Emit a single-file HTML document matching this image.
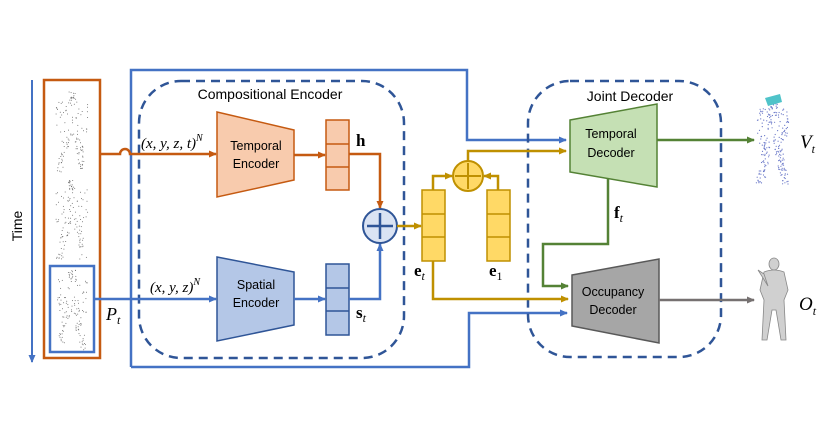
<!DOCTYPE html>
<html><head><meta charset="utf-8"><style>
html,body{margin:0;padding:0;background:#fff;}
svg text{font-family:"Liberation Sans",sans-serif;}
.m{font-family:"Liberation Serif",serif;font-style:italic;}
.b{font-family:"Liberation Serif",serif;font-weight:bold;}
</style></head><body>
<svg id="s" width="824" height="437" viewBox="0 0 824 437" xmlns="http://www.w3.org/2000/svg">
<defs>
<marker id="ab" markerWidth="8" markerHeight="8" refX="7" refY="4" orient="auto" markerUnits="userSpaceOnUse"><path d="M0,0.5 L8,4 L0,7.5z" fill="#4472c4"/></marker>
<marker id="ao" markerWidth="8" markerHeight="8" refX="7" refY="4" orient="auto" markerUnits="userSpaceOnUse"><path d="M0,0.5 L8,4 L0,7.5z" fill="#c55a11"/></marker>
<marker id="ay" markerWidth="8" markerHeight="8" refX="7" refY="4" orient="auto" markerUnits="userSpaceOnUse"><path d="M0,0.5 L8,4 L0,7.5z" fill="#bf9000"/></marker>
<marker id="ag" markerWidth="8" markerHeight="8" refX="7" refY="4" orient="auto" markerUnits="userSpaceOnUse"><path d="M0,0.5 L8,4 L0,7.5z" fill="#548235"/></marker>
<marker id="agr" markerWidth="8" markerHeight="8" refX="7" refY="4" orient="auto" markerUnits="userSpaceOnUse"><path d="M0,0.5 L8,4 L0,7.5z" fill="#767171"/></marker>
</defs>
<line x1="32" y1="80" x2="32" y2="362" stroke="#4472c4" stroke-width="2" marker-end="url(#ab)"/>
<text x="0" y="0" font-size="14" transform="translate(22,226) rotate(-90)" text-anchor="middle">Time</text>
<rect x="44" y="80" width="56" height="278" fill="none" stroke="#c55a11" stroke-width="2.5"/>
<rect x="50" y="266" width="44" height="86" fill="none" stroke="#4472c4" stroke-width="2.5"/>
<g id="pc"></g>
<path d="M131,367 V70 H467 V140 H566" fill="none" stroke="#4472c4" stroke-width="2.5" marker-end="url(#ab)"/>
<path d="M131,367 H469 V313 H567" fill="none" stroke="#4472c4" stroke-width="2.5" marker-end="url(#ab)"/>
<rect x="139" y="81" width="265" height="277" rx="42" fill="none" stroke="#2f5597" stroke-width="2.5" stroke-dasharray="9,6"/>
<rect x="528" y="81" width="193" height="276" rx="42" fill="none" stroke="#2f5597" stroke-width="2.5" stroke-dasharray="9,6"/>
<text x="270" y="99" font-size="14" text-anchor="middle">Compositional Encoder</text>
<text x="630" y="101" font-size="14" text-anchor="middle">Joint Decoder</text>
<path d="M100,154 H120 A5,5 0 0 1 130,154 H216" fill="none" stroke="#c55a11" stroke-width="2.5" marker-end="url(#ao)"/>
<text x="141" y="148" font-size="15" class="m">(x, y, z, t)<tspan dy="-7" font-size="10">N</tspan></text>
<polygon points="217,112 294,130 294,180 217,197" fill="#f8cbad" stroke="#c55a11" stroke-width="1.5"/>
<text x="256" y="150" font-size="12.5" text-anchor="middle">Temporal</text>
<text x="256" y="168" font-size="12.5" text-anchor="middle">Encoder</text>
<line x1="294" y1="155" x2="325" y2="155" stroke="#c55a11" stroke-width="2.5" marker-end="url(#ao)"/>
<rect x="326" y="120" width="23" height="70" fill="#f8cbad" stroke="#c55a11" stroke-width="1.5"/>
<line x1="326" y1="144" x2="349" y2="144" stroke="#c55a11" stroke-width="1.5"/><line x1="326" y1="167" x2="349" y2="167" stroke="#c55a11" stroke-width="1.5"/>
<text x="356" y="146" font-size="17" class="b">h</text>
<path d="M349,154 H380 V208" fill="none" stroke="#c55a11" stroke-width="2.5" marker-end="url(#ao)"/>
<line x1="94" y1="299" x2="216" y2="299" stroke="#4472c4" stroke-width="2.5" marker-end="url(#ab)"/>
<text x="150" y="292" font-size="15" class="m">(x, y, z)<tspan dy="-7" font-size="10">N</tspan></text>
<text x="106" y="320" font-size="18" class="m">P<tspan dy="4" font-size="12">t</tspan></text>
<polygon points="217,257 294,272 294,325 217,341" fill="#b4c7e7" stroke="#2f5597" stroke-width="1.5"/>
<text x="256" y="289" font-size="12.5" text-anchor="middle">Spatial</text>
<text x="256" y="307" font-size="12.5" text-anchor="middle">Encoder</text>
<line x1="294" y1="299" x2="325" y2="299" stroke="#4472c4" stroke-width="2.5" marker-end="url(#ab)"/>
<rect x="326" y="264" width="23" height="71" fill="#b4c7e7" stroke="#2f5597" stroke-width="1.5"/>
<line x1="326" y1="288" x2="349" y2="288" stroke="#2f5597" stroke-width="1.5"/><line x1="326" y1="311" x2="349" y2="311" stroke="#2f5597" stroke-width="1.5"/>
<text x="356" y="318" font-size="17" class="b">s<tspan dy="4" font-size="12" font-weight="normal" font-style="italic">t</tspan></text>
<path d="M349,299 H380 V244" fill="none" stroke="#4472c4" stroke-width="2.5" marker-end="url(#ab)"/>
<circle cx="380" cy="226" r="17" fill="#dae3f3" stroke="#2f5597" stroke-width="2"/>
<line x1="367" y1="226" x2="393" y2="226" stroke="#2f5597" stroke-width="2.5"/><line x1="380" y1="213" x2="380" y2="239" stroke="#2f5597" stroke-width="2.5"/>
<line x1="397" y1="226" x2="421" y2="226" stroke="#bf9000" stroke-width="2.5" marker-end="url(#ay)"/>
<rect x="422" y="190" width="23" height="71" fill="#ffd966" stroke="#bf9000" stroke-width="1.5"/>
<line x1="422" y1="214" x2="445" y2="214" stroke="#bf9000" stroke-width="1.5"/><line x1="422" y1="237" x2="445" y2="237" stroke="#bf9000" stroke-width="1.5"/>
<rect x="487" y="190" width="23" height="71" fill="#ffd966" stroke="#bf9000" stroke-width="1.5"/>
<line x1="487" y1="214" x2="510" y2="214" stroke="#bf9000" stroke-width="1.5"/><line x1="487" y1="237" x2="510" y2="237" stroke="#bf9000" stroke-width="1.5"/>
<text x="414" y="276" font-size="17" class="b">e<tspan dy="4" font-size="12" font-weight="normal" font-style="italic">t</tspan></text>
<text x="489" y="276" font-size="17" class="b">e<tspan dy="4" font-size="12" font-weight="normal">1</tspan></text>
<path d="M433,190 V176 H452" fill="none" stroke="#bf9000" stroke-width="2.5" marker-end="url(#ay)"/>
<path d="M498,190 V176 H484" fill="none" stroke="#bf9000" stroke-width="2.5" marker-end="url(#ay)"/>
<circle cx="468" cy="176" r="15" fill="#ffd966" stroke="#bf9000" stroke-width="2"/>
<line x1="455" y1="176" x2="481" y2="176" stroke="#bf9000" stroke-width="2"/><line x1="468" y1="163" x2="468" y2="189" stroke="#bf9000" stroke-width="2"/>
<path d="M468,161 V151 H566" fill="none" stroke="#bf9000" stroke-width="2.5" marker-end="url(#ay)"/>
<path d="M433,261 V299 H568" fill="none" stroke="#bf9000" stroke-width="2.5" marker-end="url(#ay)"/>
<polygon points="570,120 657,104 657,187 570,172" fill="#c5e0b4" stroke="#548235" stroke-width="1.5"/>
<text x="611" y="138" font-size="12.5" text-anchor="middle">Temporal</text>
<text x="611" y="157" font-size="12.5" text-anchor="middle">Decoder</text>
<line x1="657" y1="140" x2="754" y2="140" stroke="#548235" stroke-width="2.5" marker-end="url(#ag)"/>
<path d="M608,178 V244 H543 V286 H568" fill="none" stroke="#548235" stroke-width="2.5" marker-end="url(#ag)"/>
<text x="614" y="218" font-size="17" class="b">f<tspan dy="4" font-size="12" font-weight="normal" font-style="italic">t</tspan></text>
<polygon points="572,275 659,259 659,343 572,326" fill="#a6a6a6" stroke="#595959" stroke-width="1.5"/>
<text x="613" y="296" font-size="12.5" text-anchor="middle">Occupancy</text>
<text x="613" y="314" font-size="12.5" text-anchor="middle">Decoder</text>
<line x1="659" y1="300" x2="754" y2="300" stroke="#767171" stroke-width="2.5" marker-end="url(#agr)"/>
<text x="800" y="148" font-size="19" class="m">V<tspan dy="5" font-size="12">t</tspan></text>
<text x="799" y="310" font-size="19" class="m">O<tspan dy="5" font-size="12">t</tspan></text>
<g fill="#d0d0d0" stroke="#888" stroke-width="0.8">
<ellipse cx="774" cy="264" rx="5" ry="6"/>
<path d="M764,272 Q774,268 784,272 L788,290 L784,300 L786,340 L781,340 L776,310 L772,310 L767,340 L762,340 L764,300 L760,290 Z"/>
<path d="M764,274 L758,270 L768,286 Z"/>
</g>
<g id="vt"></g>
</svg>
<script>
var s=1;function r(){s=(s*16807)%2147483647;return (s-1)/2147483646;}
function fig(g,cx,top,h,col,n,sz,wf){var out='';for(var i=0;i<n;i++){var y=top+r()*h;var t=(y-top)/h;var w;
var x;if(t<0.12){w=0.1*h;x=cx+(r()-0.5)*w;}else if(t<0.55){w=wf*h;x=cx+(r()-0.5)*w;}else{var leg=r()<0.5?-1:1;x=cx+leg*(0.06*h+(t-0.55)*0.2*h)+(r()-0.5)*0.1*h;}
out+='<circle cx="'+x.toFixed(1)+'" cy="'+y.toFixed(1)+'" r="'+sz+'" fill="'+col+'"/>';}
document.getElementById(g).innerHTML+=out;}
fig('pc',72,92,80,'#666',130,0.5,0.4);
fig('pc',72,180,80,'#666',130,0.5,0.4);
fig('pc',72,270,80,'#666',130,0.5,0.4);
fig('vt',773,98,86,'#6a78c8',240,0.6,0.38);
document.getElementById('vt').innerHTML+='<path d="M765,98 L780,94 L782,102 L768,106 Z" fill="#4fc3c9"/>';
</script>
</body></html>
